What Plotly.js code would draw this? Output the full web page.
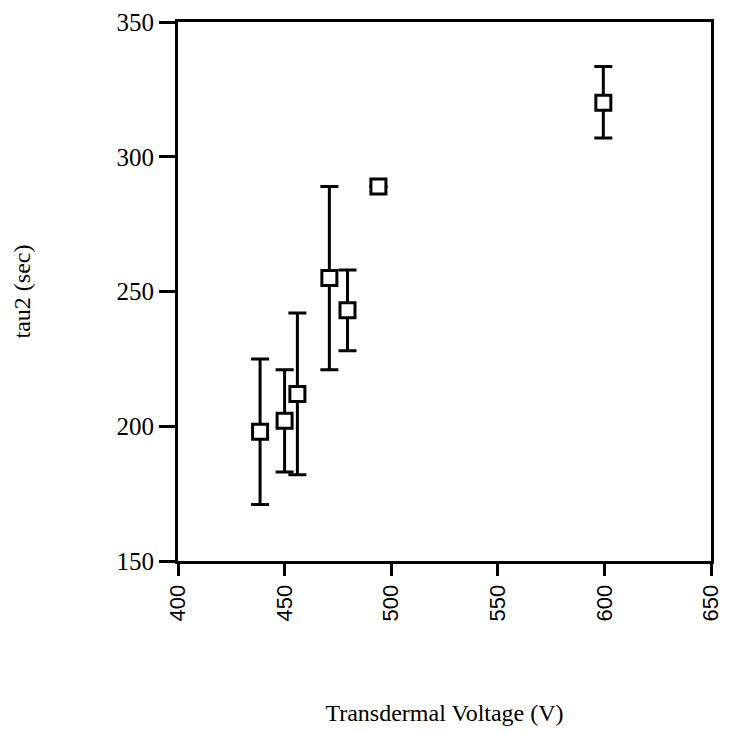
<!DOCTYPE html>
<html>
<head>
<meta charset="utf-8">
<script src="https://cdn.plot.ly/plotly-3.0.1.min.js"></script>
<style>html,body{margin:0;padding:0;background:#fff;}#chart{width:729px;height:733px;}</style>
</head>
<body>
<div id="chart"></div>
<script>
var voltage = [438.5, 450, 456, 471, 479.5, 494, 599.5];
var tau2 = [198, 202, 212, 255, 243, 289, 320];
var errPlus = [27, 19, 30, 34, 15, 0, 13.5];
var errMinus = [27, 19, 30, 34, 15, 0, 13];

var trace = {
  x: voltage,
  y: tau2,
  type: 'scatter',
  mode: 'markers',
  marker: {symbol: 'square', size: 15, color: '#fff', line: {color: '#000', width: 3}},
  error_y: {type: 'data', symmetric: false, array: errPlus, arrayminus: errMinus, color: '#000', thickness: 3, width: 9}
};

var serif = '"Liberation Serif", "Times New Roman", serif';
var sans = '"Liberation Sans", Arial, sans-serif';
var layout = {
  width: 729, height: 733,
  margin: {l: 178, r: 18, t: 22, b: 172},
  paper_bgcolor: '#fff', plot_bgcolor: '#fff',
  showlegend: false,
  font: {family: serif, color: '#000'},
  xaxis: {
    range: [400, 650], tickvals: [400, 450, 500, 550, 600, 650],
    tickangle: -90, ticks: 'outside', ticklen: 12, tickwidth: 3, tickcolor: '#000',
    showline: true, linewidth: 3, linecolor: '#000', mirror: true,
    showgrid: false, zeroline: false,
    tickfont: {family: sans, size: 22, color: '#000'},
    title: {text: 'Transdermal Voltage (V)', font: {family: serif, size: 24, color: '#000'}, standoff: 84},
    automargin: false
  },
  yaxis: {
    range: [150, 350], tickvals: [150, 200, 250, 300, 350],
    ticks: 'outside', ticklen: 16, tickwidth: 3, tickcolor: '#000',
    showline: true, linewidth: 3, linecolor: '#000', mirror: true,
    showgrid: false, zeroline: false,
    tickfont: {family: serif, size: 25, color: '#000'},
    title: {text: 'tau2 (sec)', font: {family: serif, size: 24, color: '#000'}, standoff: 80},
    automargin: false
  }
};
Plotly.newPlot('chart', [trace], layout, {displayModeBar: false, staticPlot: true});
</script>
</body>
</html>
